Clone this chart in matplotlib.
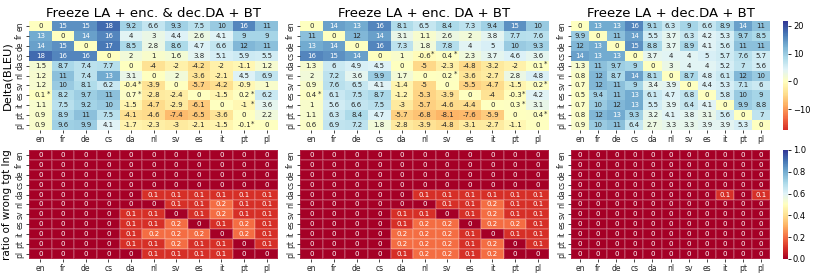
import numpy as np
import matplotlib
matplotlib.use('Agg')
import matplotlib.pyplot as plt
import seaborn as sns

LANGS = ['en', 'fr', 'de', 'cs', 'da', 'nl', 'sv', 'es', 'it', 'pt', 'pl']

TITLES = [
    'Freeze LA + enc. & dec.DA + BT',
    'Freeze LA + enc. DA + BT',
    'Freeze LA + dec.DA + BT',
]

# Delta(BLEU), rows = source, cols = target
bleu_enc_dec = [
    [0, 15, 15, 18, 9.2, 6.6, 9.3, 7.5, 10, 16, 11],
    [13, 0, 14, 16, 4, 3, 4.4, 2.6, 4.1, 9, 9],
    [14, 15, 0, 17, 8.5, 2.8, 8.6, 4.7, 6.6, 12, 11],
    [18, 16, 16, 0, 2, 1, 1.6, 3.8, 5.1, 5.9, 5.5],
    [1.5, 8.7, 7.4, 7.7, 0, -4, -2, -4.2, -2, -1.1, 1.2],
    [1.2, 11, 7.4, 13, 3.1, 0, 2, -3.6, -2.1, 4.5, 6.9],
    [1.2, 10, 8.1, 6.2, -0.4, -3.9, 0, -5.7, -4.2, -0.9, 1],
    [0.1, 8.2, 9.7, 11, 0.7, -2.8, -2.4, 0, -1.5, 0.2, 6.2],
    [1.1, 7.5, 9.2, 10, -1.5, -4.7, -2.9, -6.1, 0, -1, 3.6],
    [0.9, 8.9, 11, 7.5, -4.1, -4.6, -7.4, -6.5, -3.6, 0, 2.2],
    [0.9, 9.6, 9.9, 4.1, -1.7, -2.3, -3, -2.1, -1.5, -0.1, 0],
]
bleu_enc = [
    [0, 14, 13, 16, 8.1, 6.5, 8.4, 7.3, 9.4, 15, 10],
    [11, 0, 12, 14, 3.1, 1.1, 2.6, 2, 3.8, 7.7, 7.6],
    [13, 14, 0, 16, 7.3, 1.8, 7.8, 4, 5, 10, 9.3],
    [16, 15, 14, 0, 1, -0.6, 0.4, 2.3, 3.7, 4.6, 3.6],
    [1.3, 6, 4.9, 4.5, 0, -5, -2.3, -4.8, -3.2, -2, 0.1],
    [2, 7.2, 3.6, 9.9, 1.7, 0, 0.2, -3.6, -2.7, 2.8, 4.8],
    [0.9, 7.6, 6.5, 4.1, -1.4, -5, 0, -5.5, -4.7, -1.5, 0.2],
    [0.4, 6.1, 7.5, 8.7, -1.2, -5.3, -3.9, 0, -4, -0.3, 4.2],
    [1, 5.6, 6.6, 7.5, -3, -5.7, -4.6, -4.4, 0, 0.3, 3.1],
    [1.1, 6.3, 8.4, 4.7, -5.7, -6.8, -8.1, -7.6, -5.9, 0, 0.4],
    [0.6, 6.9, 7.2, 1.8, -2.8, -3.9, -4.8, -3.1, -2.7, -1.1, 0],
]
bleu_dec = [
    [0, 13, 13, 16, 9.1, 6.3, 9, 6.6, 8.9, 14, 11],
    [9.9, 0, 11, 14, 5.5, 3.7, 6.3, 4.2, 5.3, 9.7, 8.5],
    [12, 13, 0, 15, 8.8, 3.7, 8.9, 4.1, 5.6, 11, 11],
    [14, 13, 13, 0, 3.7, 4, 4, 5, 5.7, 7.6, 5.7],
    [1.3, 11, 9.7, 9, 0, 3, 4, 4, 5.2, 7, 5.6],
    [0.8, 12, 8.7, 14, 8.1, 0, 8.7, 4.8, 6.1, 12, 10],
    [0.7, 12, 11, 9, 3.4, 3.9, 0, 4.4, 5.3, 7.1, 6],
    [0.5, 9.4, 11, 13, 6.1, 4.7, 6.8, 0, 5.8, 10, 9],
    [0.7, 10, 12, 13, 5.5, 3.9, 6.4, 4.1, 0, 9.9, 8.8],
    [0.8, 12, 13, 9.3, 3.2, 4.1, 3.8, 3.1, 5.6, 0, 7],
    [0.9, 10, 11, 6.4, 2.7, 3.3, 3.3, 3.9, 3.9, 5.3, 0],
]

# cells marked with * (row, col)
stars_enc_dec = [(6, 4), (7, 0), (7, 4), (7, 9), (8, 9), (10, 9)]
stars_enc = [(3, 5), (3, 6), (4, 10), (5, 6), (6, 10), (7, 0), (7, 9),
             (8, 9), (9, 10)]
stars_dec = []

# ratio of wrong target language
wrong_enc_dec = [
    [0, 0, 0, 0, 0, 0, 0, 0, 0, 0, 0],
    [0, 0, 0, 0, 0, 0, 0, 0, 0, 0, 0],
    [0, 0, 0, 0, 0, 0, 0, 0, 0, 0, 0],
    [0, 0, 0, 0, 0, 0, 0, 0, 0, 0, 0],
    [0, 0, 0, 0, 0, 0.1, 0.1, 0.1, 0.1, 0.1, 0.1],
    [0, 0, 0, 0, 0, 0, 0.1, 0.1, 0.2, 0.1, 0.1],
    [0, 0, 0, 0, 0.1, 0.1, 0, 0.1, 0.2, 0.1, 0.1],
    [0, 0, 0, 0, 0.1, 0.1, 0.2, 0, 0.1, 0.2, 0.1],
    [0, 0, 0, 0, 0.1, 0.2, 0.2, 0.2, 0, 0.2, 0.1],
    [0, 0, 0, 0, 0.1, 0.1, 0.2, 0.1, 0.1, 0, 0.1],
    [0, 0, 0, 0, 0, 0.1, 0.1, 0.1, 0.1, 0, 0],
]
wrong_enc = [
    [0, 0, 0, 0, 0, 0, 0, 0, 0, 0, 0],
    [0, 0, 0, 0, 0, 0, 0, 0, 0, 0, 0],
    [0, 0, 0, 0, 0, 0, 0, 0, 0, 0, 0],
    [0, 0, 0, 0, 0, 0, 0, 0, 0, 0, 0],
    [0, 0, 0, 0, 0, 0.1, 0.1, 0.1, 0.1, 0.1, 0.1],
    [0, 0, 0, 0, 0, 0, 0.1, 0.1, 0.2, 0.1, 0.1],
    [0, 0, 0, 0, 0.1, 0.1, 0, 0.1, 0.2, 0.1, 0.1],
    [0, 0, 0, 0, 0.1, 0.2, 0.2, 0, 0.2, 0.2, 0.1],
    [0, 0, 0, 0, 0.2, 0.2, 0.2, 0.1, 0, 0.1, 0.1],
    [0, 0, 0, 0, 0.2, 0.2, 0.2, 0.1, 0.2, 0, 0.1],
    [0, 0, 0, 0, 0.1, 0.2, 0.2, 0.1, 0.2, 0, 0],
]
wrong_dec = [
    [0, 0, 0, 0, 0, 0, 0, 0, 0, 0, 0],
    [0, 0, 0, 0, 0, 0, 0, 0, 0, 0, 0],
    [0, 0, 0, 0, 0, 0, 0, 0, 0, 0, 0],
    [0, 0, 0, 0, 0, 0, 0, 0, 0, 0, 0],
    [0, 0, 0, 0, 0, 0, 0, 0, 0.1, 0, 0.1],
    [0, 0, 0, 0, 0, 0, 0, 0, 0, 0, 0],
    [0, 0, 0, 0, 0, 0, 0, 0, 0, 0, 0],
    [0, 0, 0, 0, 0, 0, 0, 0, 0, 0, 0],
    [0, 0, 0, 0, 0, 0, 0, 0, 0, 0, 0],
    [0, 0, 0, 0, 0, 0, 0, 0, 0, 0, 0],
    [0, 0, 0, 0, 0, 0, 0, 0, 0, 0, 0],
]

BLEU = [bleu_enc_dec, bleu_enc, bleu_dec]
STARS = [stars_enc_dec, stars_enc, stars_dec]
WRONG = [wrong_enc_dec, wrong_enc, wrong_dec]

fig, axes = plt.subplots(2, 3, figsize=(8.3, 2.77), dpi=100)
plt.subplots_adjust(left=0.035, right=0.988, top=0.924, bottom=0.065,
                    wspace=0.088, hspace=0.183)


def style_ticks(ax):
    ax.set_xticklabels(LANGS, rotation=0, fontsize=5.5)
    ax.set_yticklabels(LANGS, rotation=90, va='center', fontsize=5.5)
    ax.tick_params(length=2, width=0.6, pad=1.5, colors='#262626')


def style_cbar(ax):
    cb = ax.collections[0].colorbar
    cb.ax.tick_params(labelsize=6, length=2, width=0.6, pad=1.5)
    cb.outline.set_visible(False)


for k in range(3):
    ax = axes[0, k]
    last = (k == 2)
    sns.heatmap(np.array(BLEU[k]), ax=ax, cmap='RdYlBu', center=0,
                vmin=-17.5, vmax=21.7, annot=True, fmt='.2g',
                annot_kws={'size': 5}, cbar=last,
                xticklabels=LANGS, yticklabels=LANGS)
    for (i, j) in STARS[k]:
        ax.text(j + 0.86, i + 0.32, '*', fontsize=5, ha='center',
                va='center', color='#262626')
    ax.set_title(TITLES[k], fontsize=9.5, pad=3)
    style_ticks(ax)
    if last:
        style_cbar(ax)

    ax = axes[1, k]
    sns.heatmap(np.array(WRONG[k]), ax=ax, cmap='RdYlBu', vmin=0, vmax=1,
                annot=True, fmt='.1g', annot_kws={'size': 5}, cbar=last,
                xticklabels=LANGS, yticklabels=LANGS,
                linewidths=0.2, linecolor=(1, 1, 1, 0.15))
    style_ticks(ax)
    if last:
        style_cbar(ax)

axes[0, 0].set_ylabel('Delta(BLEU)', fontsize=8.2, labelpad=2)
axes[1, 0].set_ylabel('ratio of wrong tgt lng', fontsize=7.5, labelpad=2)

plt.savefig('out.png', dpi=100)
